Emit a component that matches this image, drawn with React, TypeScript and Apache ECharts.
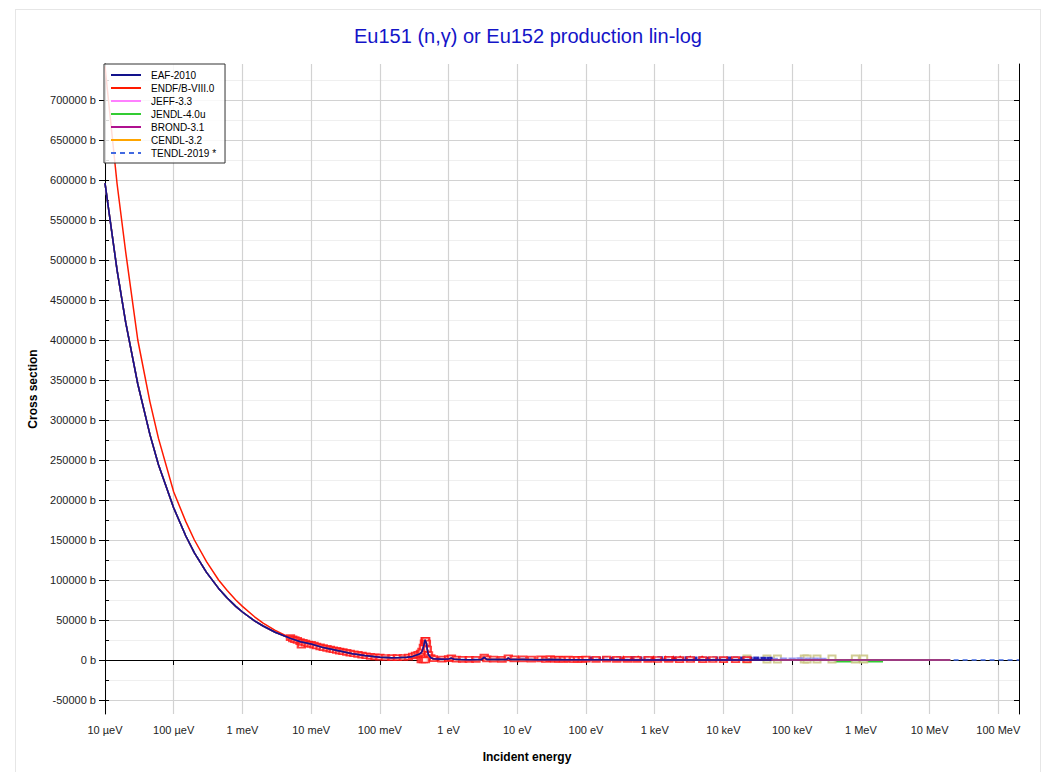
import React, { useEffect, useRef } from 'react';
import * as echarts from 'echarts';

const FONT = '"Liberation Sans", Arial, Helvetica, sans-serif';

// ---- axis ticks ----
const xTickValues = [1e-5, 1e-4, 1e-3, 1e-2, 1e-1, 1, 10, 100, 1e3, 1e4, 1e5, 1e6, 1e7, 1e8];
const xTickLabels = ['10 µeV', '100 µeV', '1 meV', '10 meV', '100 meV', '1 eV', '10 eV', '100 eV', '1 keV', '10 keV', '100 keV', '1 MeV', '10 MeV', '100 MeV'];
const yMajorTicks = [-50000, 0, 50000, 100000, 150000, 200000, 250000, 300000, 350000, 400000, 450000, 500000, 550000, 600000, 650000, 700000];
const yAllTicks = [-50000, -25000, 0, 25000, 50000, 75000, 100000, 125000, 150000, 175000, 200000, 225000, 250000, 275000, 300000, 325000, 350000, 375000, 400000, 425000, 450000, 475000, 500000, 525000, 550000, 575000, 600000, 625000, 650000, 675000, 700000, 725000];

// ---- evaluated data (energy in eV, cross section in b) ----
const lowE = [1e-5, 1.5e-5, 2e-5, 3e-5, 4.5e-5, 6e-5, 1e-4, 1.5e-4, 2e-4, 3e-4, 4.5e-4, 6e-4, 8e-4, 1e-3, 1.5e-3, 2e-3, 3e-3, 5e-3, 7e-3, 1e-2, 1.5e-2, 2.5e-2, 4e-2, 6e-2, 0.1, 0.15, 0.2, 0.25, 0.3, 0.33, 0.36, 0.39, 0.41, 0.43, 0.445, 0.455, 0.465, 0.475, 0.49, 0.51, 0.55, 0.6, 0.8, 1.0, 1.1, 1.2, 1.5, 2, 3, 3.3, 3.6, 5, 7, 7.4, 8, 12, 20, 30, 50, 100, 200, 500, 1000, 3000, 1e4, 3e4, 5e4];
const eafSigma = [596000, 487000, 422000, 345000, 282000, 244000, 190000, 155000, 134000, 109500, 89500, 77500, 67000, 60000, 49000, 42500, 34700, 27000, 22800, 20000, 15500, 11500, 7800, 5500, 3300, 2800, 3000, 3400, 4500, 5800, 6800, 8200, 10500, 15500, 21500, 25000, 25000, 21000, 13500, 6500, 2800, 1500, 900, 1400, 2300, 1000, 600, 450, 550, 3300, 600, 500, 550, 2400, 500, 700, 400, 600, 350, 300, 250, 150, 100, 50, 20, 10, 5];
const endfSigma = [742000, 595000, 510000, 400000, 323000, 277000, 210000, 173000, 150000, 123000, 100000, 87000, 75000, 67000, 54000, 46000, 37000, 27500, 22800, 20000, 15500, 11500, 7800, 5500, 3300, 2800, 3000, 3400, 4500, 5800, 6800, 8200, 10500, 15500, 21500, 25000, 25000, 21000, 13500, 6500, 2800, 1500, 900, 1400, 2300, 1000, 600, 450, 550, 3300, 600, 500, 550, 2400, 500, 700, 400, 600, 350, 300, 250, 150, 100, 50, 20, 10, 5];
const highE = [1e5, 3e5, 1e6, 3e6, 1e7, 2e7];
const highSigma = [3, 1.5, 0.5, 0.1, 0.01, 0.001];
const tendlTailE = [5e7, 1e8, 2e8];
const tendlTailSigma = [0.001, 0.0005, 0.0002];

// ---- experimental data (EXFOR) ----
const expRedSquares: [number, number][] = [
  [5.0e-3, 28000], [5.4e-3, 26500], [5.8e-3, 25500], [6.3e-3, 24500], [6.9e-3, 23000], [7.2e-3, 18500], [7.6e-3, 22000],
  [8.3e-3, 21000], [9.1e-3, 20000], [1.0e-2, 19500], [1.1e-2, 18500], [1.2e-2, 17500], [1.35e-2, 16500], [1.5e-2, 15500],
  [1.7e-2, 14500], [1.9e-2, 13500], [2.1e-2, 12800], [2.35e-2, 12000], [2.6e-2, 11200], [2.9e-2, 10500], [3.3e-2, 9500],
  [3.7e-2, 8700], [4.2e-2, 7800], [4.8e-2, 7000], [5.5e-2, 6000], [6.3e-2, 5300], [7.3e-2, 4600], [8.5e-2, 4000],
  [0.1, 3500], [0.12, 3100], [0.15, 2900], [0.18, 2900], [0.22, 3100], [0.26, 3700], [0.3, 5000], [0.33, 6200],
  [0.36, 7200], [0.39, 8600], [0.41, 11000], [0.43, 16000], [0.445, 21500], [0.455, 24500], [0.465, 24500],
  [0.475, 21000], [0.49, 13500], [0.51, 6800], [0.55, 3000], [0.6, 1600], [0.4, 0], [0.43, 0], [0.46, 0],
  [0.8, 1000], [1.0, 1600], [1.1, 2600], [1.3, 1200], [1.6, 800], [2.0, 700], [2.5, 900], [3.3, 3600], [3.6, 1500],
  [4.5, 1000], [6, 900], [7.4, 2600], [9, 1300], [12, 1500], [16, 1000], [22, 1400], [26, 600], [30, 1800], [35, 800],
  [40, 1000], [47, 700], [55, 1200], [65, 600], [75, 900], [88, 700], [100, 1100], [140, 800], [200, 1200], [280, 700],
  [400, 900], [550, 700], [800, 800], [1100, 600], [1600, 700], [2300, 500], [3300, 600], [5000, 500], [7000, 600],
  [1e4, 500], [1.5e4, 400], [2.2e4, 500],
];
const expRedTriangles: [number, number][] = [
  [350, 2100], [575, 2100], [955, 2100], [1430, 2100], [1870, 2100], [2350, 2100], [3300, 2100], [4900, 2100],
];
const expNavyDots: [number, number][] = [
  [0.7, 1800], [2.5, 1700], [12, 1900], [40, 1700], [120, 2500], [150, 2200], [190, 2700], [240, 2300], [300, 2600],
  [380, 2200], [480, 2800], [600, 2400], [760, 2600], [960, 2300], [1200, 2700], [1500, 2400], [1900, 2600],
  [2400, 2300], [3000, 2700], [3800, 2400], [4800, 2600], [6000, 2300], [7600, 2500], [9600, 2300], [12000, 2600],
  [15000, 2400], [19000, 2500], [24000, 2200], [30000, 2400], [38000, 2200], [47000, 2300],
];
const expTanSquares: [number, number][] = [
  [22000, 1300], [43000, 1100], [61000, 1300], [150000, 1200], [165000, 1400], [230000, 1200], [380000, 1100],
  [830000, 1200], [1100000, 1300],
];
const expVioletDots: [number, number][] = [
  [22000, 1500], [30000, 1200], [40000, 1600], [55000, 1000], [75000, 1400], [100000, 1200], [130000, 1500],
  [170000, 1100], [220000, 1300], [280000, 1000],
];
const expGreenLine: [number, number][] = [[4e5, -1800], [1e6, -1800], [2.1e6, -1800]];

const legendNames = ['EAF-2010', 'ENDF/B-VIII.0', 'JEFF-3.3', 'JENDL-4.0u', 'BROND-3.1', 'CENDL-3.2', 'TENDL-2019 *'];
const colors: Record<string, string> = {
  'EAF-2010': '#12128c',
  'ENDF/B-VIII.0': '#ff1a00',
  'JEFF-3.3': '#ff80ff',
  'JENDL-4.0u': '#33cc33',
  'BROND-3.1': '#b0108f',
  'CENDL-3.2': '#ffa500',
  'TENDL-2019 *': '#4169e1',
};

const pairs = (xs: number[], ys: number[]) => xs.map((x, i) => [x, ys[i]]);

function xLabel(v: number): string {
  for (let i = 0; i < xTickValues.length; i++) {
    if (Math.abs(Math.log10(v) - Math.log10(xTickValues[i])) < 0.01) return xTickLabels[i];
  }
  return '';
}

function lineSeries(name: string, data: number[][], z: number, dashed = false) {
  return {
    name,
    type: 'line',
    data,
    symbol: 'none',
    showSymbol: false,
    silent: true,
    z,
    lineStyle: { color: colors[name], width: 1.5, type: dashed ? [5, 4] : 'solid' },
    itemStyle: { color: colors[name] },
    emphasis: { disabled: true },
  };
}

function scatterSeries(name: string, data: [number, number][], symbol: string, size: number | number[], color: string) {
  return {
    name,
    type: 'scatter',
    data,
    symbol,
    symbolSize: size,
    silent: true,
    z: 1,
    itemStyle: { color, borderColor: color, borderWidth: 1 },
    emphasis: { disabled: true },
  };
}

export default function App() {
  const ref = useRef<HTMLDivElement>(null);
  useEffect(() => {
    const chart = echarts.init(ref.current!, null, { renderer: 'svg' });
    const all = lowE.concat(highE);
    const allSigma = eafSigma.concat(highSigma);
    const option: any = {
      animation: false,
      graphic: [
        {
          type: 'text',
          x: 528,
          y: 36,
          style: {
            text: 'Eu151 (n,γ) or Eu152 production lin-log',
            fill: '#1414c8',
            fontSize: 20,
            fontFamily: FONT,
            align: 'center',
            verticalAlign: 'middle',
          },
        },
      ],
      grid: { left: 105, top: 64, right: 26, bottom: 58, show: false },
      legend: {
        data: legendNames,
        left: 104,
        top: 64,
        orient: 'vertical',
        itemWidth: 30,
        itemHeight: 10,
        itemGap: 3,
        padding: [6, 9, 5, 6],
        backgroundColor: 'rgba(255,255,255,0.85)',
        borderColor: '#333',
        borderWidth: 1,
        borderRadius: 0,
        lineStyle: { width: 2 },
        itemStyle: { color: 'rgba(0,0,0,0)', borderWidth: 0, opacity: 0 },
        textStyle: { fontSize: 10, color: '#000', fontFamily: FONT, padding: [0, 0, 0, 5], lineHeight: 10 },
        selectedMode: false,
      },
      xAxis: [
        {
          type: 'log',
          logBase: 10,
          min: 1e-5,
          max: 2e8,
          position: 'bottom',
          axisLine: { show: true, lineStyle: { color: '#000', width: 1 } },
          axisTick: { show: true, customValues: xTickValues, inside: false, length: 5, lineStyle: { color: '#000' } },
          axisLabel: { customValues: xTickValues, formatter: xLabel, fontSize: 11, color: '#222', fontFamily: FONT, margin: 10 },
          splitLine: { show: true, lineStyle: { color: '#d2d2d2', width: 1.2 } },
          minorTick: { show: false },
          name: 'Incident energy',
          nameLocation: 'middle',
          nameGap: 37,
          nameTextStyle: { fontSize: 12, fontWeight: 'bold', color: '#000', fontFamily: FONT, padding: [0, 70, 0, 0] },
        },
        {
          type: 'log',
          logBase: 10,
          min: 1e-5,
          max: 2e8,
          position: 'top',
          axisLine: { show: true, lineStyle: { color: '#000', width: 1 } },
          axisTick: { show: true, customValues: xTickValues, inside: true, length: 5, lineStyle: { color: '#000' } },
          axisLabel: { show: false },
          splitLine: { show: false },
        },
      ],
      yAxis: [
        {
          type: 'value',
          min: -67500,
          max: 745000,
          position: 'left',
          axisLine: { show: true, lineStyle: { color: '#000', width: 1 } },
          axisTick: { show: true, customValues: yAllTicks, inside: true, length: 4, lineStyle: { color: '#000' } },
          axisLabel: { customValues: yMajorTicks, formatter: (v: number) => `${v} b`, fontSize: 11, color: '#222', fontFamily: FONT, margin: 9 },
          splitLine: { show: true, lineStyle: { color: ['#d2d2d2', '#efefef'], width: 1.2 } },
          name: 'Cross section',
          nameLocation: 'middle',
          nameGap: 65,
          nameTextStyle: { fontSize: 12, fontWeight: 'bold', color: '#000', fontFamily: FONT },
        },
        {
          type: 'value',
          min: -67500,
          max: 745000,
          position: 'right',
          axisLine: { show: true, lineStyle: { color: '#000', width: 1 } },
          axisTick: { show: true, customValues: yMajorTicks, inside: true, length: 5, lineStyle: { color: '#000' } },
          axisLabel: { show: false },
          splitLine: { show: false },
        },
        {
          type: 'value',
          min: -67500,
          max: 745000,
          position: 'left',
          offset: 0,
          axisLine: { show: false },
          axisTick: { show: true, customValues: yMajorTicks, inside: false, length: 6, lineStyle: { color: '#000' } },
          axisLabel: { show: false },
          splitLine: { show: false },
        },
      ],
      series: [
        { ...scatterSeries('exp-green-line', expGreenLine, 'none', 0, '#33cc33'), type: 'line', lineStyle: { color: '#33cc33', width: 2 } },
        scatterSeries('exp-tan', expTanSquares, 'emptyRect', [7, 7], '#c8c07a'),
        scatterSeries('exp-violet', expVioletDots, 'rect', [5, 2], '#8a8af0'),
        scatterSeries('exp-navy', expNavyDots, 'rect', [4, 2], '#1010b0'),
        scatterSeries('exp-red-tri', expRedTriangles, 'triangle', 5, '#ff0000'),
        scatterSeries('exp-red', expRedSquares, 'emptyRect', [7, 5], '#ff1010'),
        lineSeries('TENDL-2019 *', pairs(all.concat(tendlTailE), allSigma.concat(tendlTailSigma)), 3, true),
        lineSeries('CENDL-3.2', pairs(all, allSigma), 3),
        lineSeries('JEFF-3.3', pairs(all, allSigma), 3),
        lineSeries('JENDL-4.0u', pairs(all, allSigma), 3),
        lineSeries('ENDF/B-VIII.0', pairs(lowE, endfSigma), 3),
        lineSeries('BROND-3.1', pairs(all, allSigma), 3),
        lineSeries('EAF-2010', pairs(lowE, eafSigma), 3),
      ],
    };
    chart.setOption(option);
    return () => chart.dispose();
  }, []);
  return (
    <div style={{ position: 'fixed', left: 0, top: 0, width: 1045, height: 772, background: '#fff', overflow: 'hidden' }}>
      <div style={{ position: 'absolute', left: 15, top: 9, width: 1026, height: 800, border: '1px solid #e6e6e6', boxSizing: 'border-box' }} />
      <div ref={ref} style={{ position: 'absolute', left: 0, top: 0, width: 1045, height: 772 }} />
    </div>
  );
}
